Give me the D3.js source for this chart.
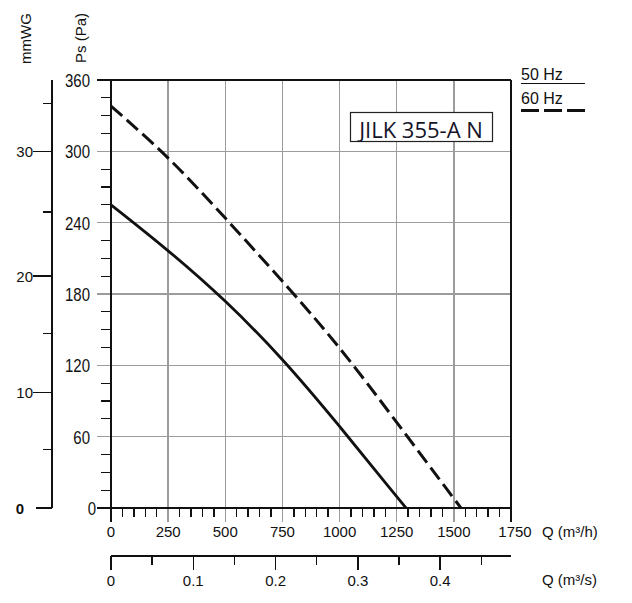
<!DOCTYPE html>
<html><head><meta charset="utf-8">
<script src="https://cdn.jsdelivr.net/npm/d3@7"></script>
<style>
body{margin:0;background:#fff}
svg text{font-family:"Liberation Sans",Arial,Helvetica,sans-serif;fill:#111}
</style>
</head><body>
<svg id="c" width="632" height="603"></svg>
<script>
// ---- data ----
const qTicks = [0, 250, 500, 750, 1000, 1250, 1500, 1750];          // m3/h
const psTicks = [0, 60, 120, 180, 240, 300, 360];                    // Pa
const qsTicks = [0, 0.1, 0.2, 0.3, 0.4];                             // m3/s labelled
const qsMinorTicks = [0.05, 0.15, 0.25, 0.35, 0.45];
const mmwgTickValues = [0, 5, 10, 15, 20, 25, 30, 35];
const mmwgTickPa = [0, 49, 97, 147, 195, 249, 300, 340];
const mmwgLabelled = [0, 10, 20, 30];
// 50 Hz curve (solid)
const q50 = [0, 250, 500, 750, 1000, 1250, 1291];
const ps50 = [255, 217, 175, 126, 69, 9.5, 0];
// 60 Hz curve (dashed)
const q60 = [0, 250, 500, 750, 1000, 1250, 1500, 1531];
const ps60 = [338, 296, 244, 191, 136, 72, 8, 0];
const modelName = "JILK 355-A N";
const legendLabels = ["50 Hz", "60 Hz"];

// ---- scales ----
const x = d3.scaleLinear().domain([0, 1750]).range([111, 511]);
const y = d3.scaleLinear().domain([0, 360]).range([508, 80]);
const xs = d3.scaleLinear().domain([0, 1750 / 3600]).range([111, 511]);

const svg = d3.select("#c");
const grid = svg.append("g").attr("shape-rendering", "crispEdges");

// vertical grid lines (inner)
grid.selectAll(".vg").data(qTicks.slice(1, -1)).enter().append("line")
  .attr("x1", d => x(d)).attr("x2", d => x(d))
  .attr("y1", y(360)).attr("y2", y(0) + 14)
  .attr("stroke", "#9c9c9c").attr("stroke-width", 1.3);
// horizontal grid lines (inner)
grid.selectAll(".hg").data(psTicks.slice(1, -1)).enter().append("line")
  .attr("y1", d => y(d)).attr("y2", d => y(d))
  .attr("x1", x(0) - 14).attr("x2", x(1750))
  .attr("stroke", "#9c9c9c").attr("stroke-width", 1.3);

// minor ticks Pa
const psMinor = d3.range(0, 361, 15).filter(v => v % 60 !== 0);
grid.selectAll(".pm").data(psMinor).enter().append("line")
  .attr("y1", d => y(d)).attr("y2", d => y(d))
  .attr("x1", x(0) - 10).attr("x2", x(0))
  .attr("stroke", "#111").attr("stroke-width", 1.3);
// minor ticks Q
const qMinor = d3.range(0, 1751, 50).filter(v => v % 250 !== 0);
grid.selectAll(".qm").data(qMinor).enter().append("line")
  .attr("x1", d => x(d)).attr("x2", d => x(d))
  .attr("y1", y(0)).attr("y2", y(0) + 9)
  .attr("stroke", "#111").attr("stroke-width", 1.3);

// frame: top, bottom, left, right
const frame = [
  [x(0) - 14, y(360), x(1750), y(360)],
  [x(0) - 14, y(0), x(1750), y(0)],
  [x(0), y(360), x(0), y(0) + 14],
  [x(1750), y(360), x(1750), y(0) + 14]
];
grid.selectAll(".fr").data(frame).enter().append("line")
  .attr("x1", d => d[0]).attr("y1", d => d[1]).attr("x2", d => d[2]).attr("y2", d => d[3])
  .attr("stroke", "#111").attr("stroke-width", 1.4);

// Pa labels
svg.selectAll(".pl").data(psTicks).enter().append("text")
  .attr("transform", d => `translate(${d === 0 ? 96 : 90},${y(d) + 7}) scale(1,1.2)`)
  .attr("text-anchor", "end").attr("font-size", 15).text(d => d);

// Q labels
svg.selectAll(".ql").data(qTicks).enter().append("text")
  .attr("x", d => x(d) + (d === 1750 ? 4 : 0)).attr("y", 537)
  .attr("text-anchor", "middle").attr("font-size", 15).text(d => d);
svg.append("text").attr("x", 542).attr("y", 537).attr("font-size", 15).text("Q (m³/h)");

// m3/s axis
const ax2 = svg.append("g").attr("shape-rendering", "crispEdges");
ax2.append("line").attr("x1", xs(0)).attr("x2", x(1750)).attr("y1", 556).attr("y2", 556)
  .attr("stroke", "#111").attr("stroke-width", 1.4);
ax2.selectAll(".t2").data(qsTicks).enter().append("line")
  .attr("x1", d => xs(d)).attr("x2", d => xs(d)).attr("y1", 556).attr("y2", 570)
  .attr("stroke", "#111").attr("stroke-width", 1.4);
ax2.selectAll(".t2m").data(qsMinorTicks).enter().append("line")
  .attr("x1", d => xs(d)).attr("x2", d => xs(d)).attr("y1", 556).attr("y2", 565)
  .attr("stroke", "#111").attr("stroke-width", 1.4);
svg.selectAll(".l2").data(qsTicks).enter().append("text")
  .attr("x", d => xs(d)).attr("y", 586).attr("text-anchor", "middle").attr("font-size", 15)
  .text(d => d === 0 ? "0" : d3.format(".1f")(d));
svg.append("text").attr("x", 542).attr("y", 585).attr("font-size", 15).text("Q (m³/s)");

// mmWG axis
const ax3 = svg.append("g").attr("shape-rendering", "crispEdges");
const mmX = 52;
ax3.append("line").attr("x1", mmX).attr("x2", mmX).attr("y1", y(360)).attr("y2", y(0))
  .attr("stroke", "#111").attr("stroke-width", 1.4);
const mmData = mmwgTickValues.map((v, i) => ({v, pa: mmwgTickPa[i]}));
ax3.selectAll(".mt").data(mmData).enter().append("line")
  .attr("x1", d => d.v === 0 ? 36 : (mmwgLabelled.includes(d.v) ? 33 : 43)).attr("x2", mmX)
  .attr("y1", d => y(d.pa)).attr("y2", d => y(d.pa))
  .attr("stroke", "#111").attr("stroke-width", 1.4);
svg.selectAll(".ml").data(mmData.filter(d => mmwgLabelled.includes(d.v))).enter().append("text")
  .attr("x", d => d.v === 0 ? 24 : 33).attr("y", d => y(d.pa) + 5.5)
  .attr("text-anchor", "end").attr("font-size", 15)
  .attr("font-weight", d => d.v === 0 ? "bold" : "normal").text(d => d.v);

// axis titles
svg.append("text").attr("transform", "translate(31,64) rotate(-90)").attr("font-size", 15).text("mmWG");
svg.append("text").attr("transform", "translate(86,63) rotate(-90)").attr("font-size", 15).text("Ps (Pa)");

// curves
const line = d3.line().x(d => x(d[0])).y(d => y(d[1])).curve(d3.curveBasis);
svg.append("path").datum(q50.map((q, i) => [q, ps50[i]])).attr("d", line)
  .attr("fill", "none").attr("stroke", "#111").attr("stroke-width", 2.8);
svg.append("path").datum(q60.map((q, i) => [q, ps60[i]])).attr("d", line)
  .attr("fill", "none").attr("stroke", "#111").attr("stroke-width", 3)
  .attr("stroke-dasharray", "15,6");

// model box
svg.append("rect").attr("x", 350.5).attr("y", 112.5).attr("width", 142).attr("height", 29)
  .attr("fill", "#fff").attr("stroke", "#222").attr("stroke-width", 1.2);
svg.append("text").attr("x", 421).attr("y", 138).attr("text-anchor", "middle")
  .attr("font-size", 22).style("font-family", "'Open Sans', sans-serif").style("fill", "#141428")
  .text(modelName);

// legend
svg.append("text").attr("x", 521).attr("y", 79.5).attr("font-size", 16).text(legendLabels[0]);
svg.append("line").attr("x1", 521).attr("x2", 585).attr("y1", 83.5).attr("y2", 83.5)
  .attr("stroke", "#111").attr("stroke-width", 1.2);
svg.append("text").attr("x", 521).attr("y", 103.5).attr("font-size", 16).text(legendLabels[1]);
svg.append("line").attr("x1", 521).attr("x2", 585).attr("y1", 110.5).attr("y2", 110.5)
  .attr("stroke", "#111").attr("stroke-width", 3).attr("stroke-dasharray", "18,5");
</script>
</body></html>
